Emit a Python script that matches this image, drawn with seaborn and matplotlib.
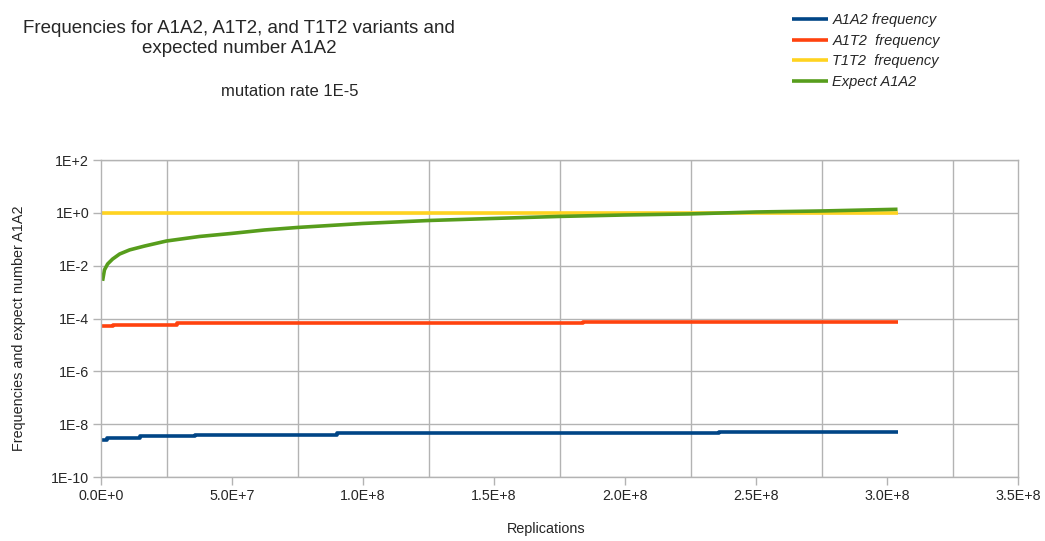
"""Frequencies of A1A2, A1T2, T1T2 variants and expected A1A2 count (log scale)."""
import pandas as pd
import matplotlib
matplotlib.use('Agg')
import matplotlib.pyplot as plt
import seaborn as sns
from matplotlib.ticker import FixedLocator

# values
a1a2_x = [0.0, 2.3e6, 1.5e7, 3.6e7, 9.0e7, 2.36e8, 3.04e8]
a1a2_y = [2.6e-9, 3.1e-9, 3.6e-9, 4.1e-9, 4.6e-9, 5.2e-9, 5.2e-9]

a1t2_x = [0.0, 4.6e6, 2.9e7, 1.84e8, 3.04e8]
a1t2_y = [5.5e-5, 6.0e-5, 6.8e-5, 7.6e-5, 7.6e-5]

t1t2_x = [0.0, 3.04e8]
t1t2_y = [1.0, 1.0]

expect_x = [0.57e6, 1.3e6, 2.5e6, 4.4e6, 7.1e6, 1.09e7, 1.66e7, 2.5e7, 3.76e7, 4.98e7,
            6.24e7, 7.5e7, 9.98e7, 1.253e8, 1.497e8, 1.749e8, 2.0e8, 2.245e8, 2.5e8,
            2.75e8, 3.04e8]
expect_y = [2.7e-3, 7.0e-3, 1.17e-2, 1.8e-2, 2.8e-2, 4.0e-2, 5.6e-2, 8.7e-2, 0.129, 0.168,
            0.227, 0.283, 0.40, 0.52, 0.62, 0.74, 0.84, 0.92, 1.09,
            1.19, 1.38]

series_names = ['A1A2 frequency', 'A1T2  frequency', 'T1T2  frequency', 'Expect A1A2']
colors = ['#004586', '#ff420e', '#ffd320', '#579d1c']

x_ticks = [0, 5e7, 1e8, 1.5e8, 2e8, 2.5e8, 3e8, 3.5e8]
x_tick_labels = ['0.0E+0', '5.0E+7', '1.0E+8', '1.5E+8', '2.0E+8', '2.5E+8', '3.0E+8', '3.5E+8']
y_ticks = [1e2, 1e0, 1e-2, 1e-4, 1e-6, 1e-8, 1e-10]
y_tick_labels = ['1E+2', '1E+0', '1E-2', '1E-4', '1E-6', '1E-8', '1E-10']


def build_frame():
    parts = []
    for name, xs, ys in zip(series_names,
                            [a1a2_x, a1t2_x, t1t2_x, expect_x],
                            [a1a2_y, a1t2_y, t1t2_y, expect_y]):
        parts.append(pd.DataFrame({'replications': xs, 'value': ys, 'series': name}))
    return pd.concat(parts, ignore_index=True)


def main():
    sns.set_style('white')
    plt.rcParams['font.family'] = ['Liberation Sans', 'DejaVu Sans']
    df = build_frame()

    fig = plt.figure(figsize=(10.45, 5.41), dpi=100)
    ax = fig.add_axes([0.0967, 0.118, 0.8775, 0.586])

    for name, col in zip(series_names, colors):
        sub = df[df['series'] == name]
        style = 'default' if name == 'Expect A1A2' else 'steps-post'
        sns.lineplot(data=sub, x='replications', y='value', ax=ax, color=col,
                     linewidth=2.6, drawstyle=style, label=name, estimator=None,
                     sort=True, solid_capstyle='butt')

    ax.set_yscale('log')
    ax.set_xlim(0, 3.5e8)
    ax.set_ylim(1e-10, 1e2)

    ax.xaxis.set_major_locator(FixedLocator(x_ticks))
    ax.set_xticklabels(x_tick_labels)
    ax.xaxis.set_minor_locator(FixedLocator([2.5e7 + 5e7 * i for i in range(7)]))
    ax.yaxis.set_major_locator(FixedLocator(y_ticks))
    ax.set_yticklabels(y_tick_labels)
    ax.yaxis.set_minor_locator(FixedLocator([]))

    ax.grid(False)
    ax.grid(True, axis='y', which='major', color='#b3b3b3', linewidth=1)
    ax.grid(True, axis='x', which='minor', color='#b3b3b3', linewidth=1)
    for s in ax.spines.values():
        s.set_color('#b3b3b3')
        s.set_linewidth(1)
    ax.tick_params(axis='both', which='major', length=5.5, width=1, color='#b3b3b3',
                   labelsize=10.3, pad=3, direction='out', bottom=True, left=True)
    ax.tick_params(axis='x', which='minor', length=0)

    ax.set_xlabel('Replications', fontsize=10.4)
    ax.xaxis.set_label_coords(0.485, -0.14)
    ax.set_ylabel('Frequencies and expect number A1A2', fontsize=10.4)
    ax.yaxis.set_label_coords(-0.082, 0.47)

    fig.text(0.229, 0.929, 'Frequencies for A1A2, A1T2, and T1T2 variants and\nexpected number A1A2',
             ha='center', va='center', fontsize=13.5, linespacing=1.2)
    fig.text(0.2775, 0.83, 'mutation rate 1E-5', ha='center', va='center', fontsize=12)

    leg = ax.legend(loc='upper left', bbox_to_anchor=(0.745, 1.0), bbox_transform=fig.transFigure,
                    frameon=False, fontsize=10.5, handlelength=2.5, handletextpad=0.3,
                    labelspacing=0.45)
    for t in leg.get_texts():
        t.set_style('italic')

    fig.savefig('out.png', dpi=100)
    plt.close(fig)
    print('Wrote out.png')


if __name__ == '__main__':
    main()
